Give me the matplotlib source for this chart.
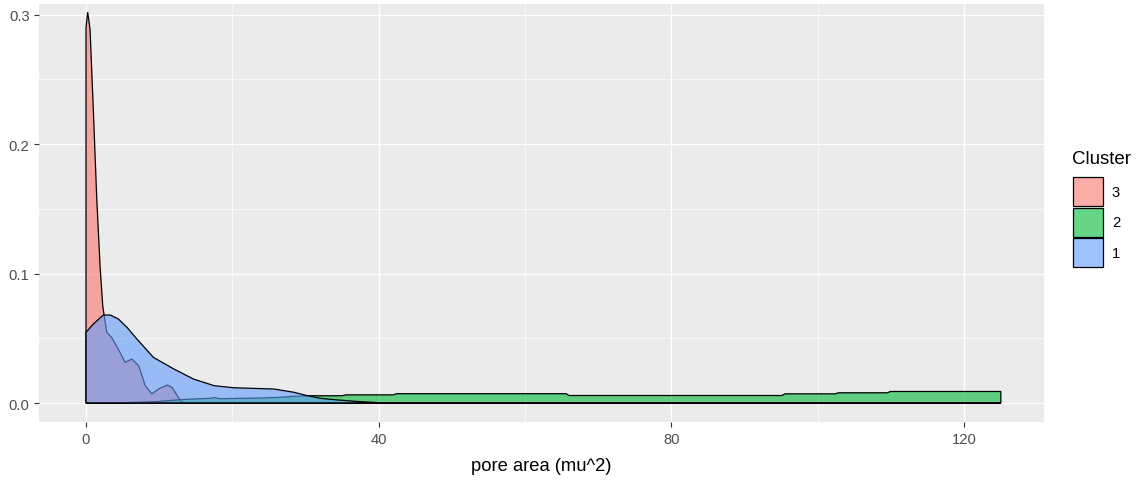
import matplotlib
matplotlib.use("Agg")
import matplotlib.pyplot as plt
from matplotlib.patches import Patch
from matplotlib.colors import to_rgba

plt.rcParams['font.family'] = ['Liberation Sans', 'DejaVu Sans']

# density curves (pore area, density)
x_c3 = [0, 0.23, 0.55, 1.0, 1.47, 1.92, 2.29, 2.47, 2.84, 3.5, 4.4, 5.35, 6.26,
        7.2, 8.1, 9.0, 9.9, 11.1, 11.75, 12.9, 13.4, 14.5, 125]
y_c3 = [0.290, 0.302, 0.289, 0.227, 0.158, 0.106, 0.075, 0.068, 0.0546, 0.0508,
        0.0417, 0.0314, 0.034, 0.0288, 0.0134, 0.007, 0.0108, 0.0139, 0.0121,
        0.0018, 0.0004, 0.0, 0.0]

x_c2 = [0, 5, 10, 11.1, 13, 15, 17, 17.5, 18.3, 21, 23.9, 26.5, 28.4, 30.4,
        35.0, 35.5, 42.0, 42.4, 65.6, 66.0, 95.1, 95.5, 102.4, 102.8,
        109.5, 109.9, 125]
y_c2 = [0.0, 0.0002, 0.0012, 0.0018, 0.0026, 0.0032, 0.0036, 0.0043, 0.0033,
        0.0036, 0.0039, 0.0044, 0.0052, 0.0056, 0.0056, 0.0063, 0.0063, 0.0072,
        0.0072, 0.0058, 0.0058, 0.0071, 0.0071, 0.0079, 0.0079, 0.0089, 0.0089]

x_c1 = [0, 1.0, 2.37, 3.3, 4.4, 5.6, 6.95, 9.2, 12.0, 14.7, 17.5, 20.2, 25.7,
        28.4, 30.3, 32.1, 33.9, 37.0, 40.0, 42.0, 125]
y_c1 = [0.0546, 0.061, 0.068, 0.068, 0.065, 0.0585, 0.0495, 0.0353, 0.0263,
        0.0185, 0.0134, 0.0118, 0.0108, 0.0083, 0.0056, 0.0036, 0.0026, 0.0012,
        0.0003, 0.0, 0.0]

clusters = ['3', '2', '1']
colors = ['#F8766D', '#00BA38', '#619CFF']
xticks = [0, 40, 80, 120]
yticks = [0.0, 0.1, 0.2, 0.3]

W, H = 1142, 481
fig = plt.figure(figsize=(W / 100, H / 100), dpi=100)
# panel placed in pixels: left 39, right 1044, top 5, bottom 423
ax = fig.add_axes([39.3 / W, (H - 423.3) / H, 1004.7 / W, 418.6 / H])
ax.set_facecolor('#EBEBEB')

series = [(x_c3, y_c3), (x_c2, y_c2), (x_c1, y_c1)]
for (xs, ys), c in zip(series, colors):
    px = [xs[0]] + xs + [xs[-1]]
    py = [0] + ys + [0]
    ax.fill(px, py, fc=to_rgba(c, 0.6), ec='black', lw=0.9, zorder=3)

ax.set_xlim(-6.38, 130.9)
ax.set_ylim(-0.0149, 0.3085)
ax.set_xticks(xticks)
ax.set_xticklabels([str(t) for t in xticks])
ax.set_yticks(yticks)
ax.set_yticklabels([f"{t:.1f}" for t in yticks])
ax.set_xticks([20, 60, 100], minor=True)
ax.set_yticks([0.05, 0.15, 0.25], minor=True)
ax.grid(which='major', color='white', lw=1.0, zorder=0)
ax.grid(which='minor', color='white', lw=0.5, zorder=0)
ax.set_axisbelow(True)
for s in ax.spines.values():
    s.set_visible(False)
ax.tick_params(which='major', length=3.6, width=0.8, color='#333333',
               labelcolor='#4D4D4D', labelsize=10.6, pad=3.4)
ax.tick_params(which='minor', length=0)
ax.set_xlabel('pore area (mu^2)', fontsize=13.2, color='black', labelpad=8)

fig.text(1072 / W, 1 - 160 / H, 'Cluster', ha='left', va='center', fontsize=13.5)
handles = [Patch(fc=to_rgba(c, 0.6), ec='black', lw=0.9) for c in colors]
leg = fig.legend(handles, clusters, loc='upper left',
                 bbox_to_anchor=(1073 / W, 1 - 178 / H), frameon=False,
                 fontsize=10.6, handlelength=2.04, handleheight=2.66,
                 labelspacing=0.1, handletextpad=0.6,
                 borderaxespad=0, borderpad=0)

fig.savefig('out.png', dpi=100)
